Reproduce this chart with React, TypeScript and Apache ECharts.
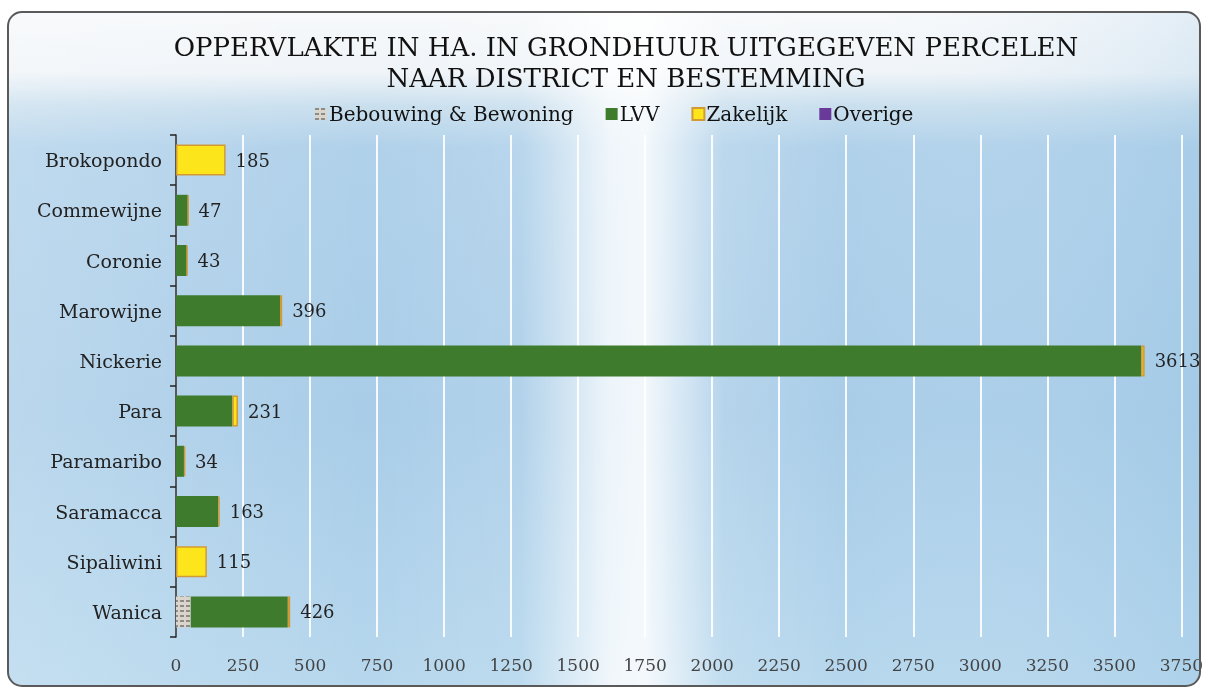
import React, { useEffect, useRef } from "react";
import * as echarts from "echarts";

const categories = ["Brokopondo", "Commewijne", "Coronie", "Marowijne", "Nickerie", "Para", "Paramaribo", "Saramacca", "Sipaliwini", "Wanica"];
const bebouwing = [0, 0, 0, 0, 0, 0, 0, 0, 0, 55];
const lvv = [0, 44, 40, 388, 3600, 210, 30, 158, 0, 362];
const zakelijk = [185, 3, 3, 8, 13, 21, 4, 5, 115, 9];
const overige = [0, 0, 0, 0, 0, 0, 0, 0, 0, 0];
const xTicks = { min: 0, max: 3750, interval: 250 };
const titleText = "OPPERVLAKTE IN HA. IN GRONDHUUR UITGEGEVEN PERCELEN\nNAAR DISTRICT EN BESTEMMING";

const FONT = "'DejaVu Serif', 'Liberation Serif', serif";

export default function App() {
  const ref = useRef<HTMLDivElement>(null);
  useEffect(() => {
    if (!ref.current) return;
    const chart = echarts.init(ref.current, null, { renderer: "svg" });
    const totals = categories.map((_, i) => bebouwing[i] + lvv[i] + zakelijk[i] + overige[i]);
    const nz = (arr: number[]) => arr.map((v) => (v ? v : null));
    chart.setOption({
      animation: false,
      textStyle: { fontFamily: FONT },
      graphic: [
        {
          type: "rect",
          z: -10,
          silent: true,
          shape: { x: 8, y: 12, width: 1192, height: 674, r: 14 },
          style: {
            fill: new echarts.graphic.LinearGradient(0, 0, 0, 1, [
              { offset: 0, color: "#f7f9fb" },
              { offset: 0.09, color: "#eff4f8" },
              { offset: 0.14, color: "#c9dfee" },
              { offset: 0.2, color: "#b0d1ea" },
              { offset: 0.6, color: "#a9cde8" },
              { offset: 1, color: "#b6d7ed" },
            ]),
          },
        },
        {
          type: "rect",
          z: -9,
          silent: true,
          shape: { x: 8, y: 12, width: 1192, height: 674, r: 14 },
          style: {
            fill: new echarts.graphic.LinearGradient(0, 0, 1, 0, [
              { offset: 0, color: "rgba(255,255,255,0.2)" },
              { offset: 0.3, color: "rgba(255,255,255,0)" },
              { offset: 0.43, color: "rgba(255,255,255,0.1)" },
              { offset: 0.505, color: "rgba(255,255,255,0.8)" },
              { offset: 0.535, color: "rgba(255,255,255,0.85)" },
              { offset: 0.6, color: "rgba(255,255,255,0.15)" },
              { offset: 0.7, color: "rgba(255,255,255,0)" },
              { offset: 1, color: "rgba(140,190,225,0.2)" },
            ]),
          },
        },
        {
          type: "rect",
          z: 50,
          silent: true,
          shape: { x: 8, y: 12, width: 1192, height: 674, r: 14 },
          style: { fill: "none", stroke: "#5a5a5a", lineWidth: 2 },
        },
      ],
      title: {
        text: titleText,
        left: 621,
        textAlign: "center",
        top: 26,
        textStyle: { fontFamily: FONT, fontSize: 26, fontWeight: "normal", color: "#111", lineHeight: 31 },
      },
      legend: {
        top: 99,
        left: 310,
        itemWidth: 12,
        itemHeight: 12,
        itemGap: 32,
        icon: "rect",
        textStyle: { fontFamily: FONT, fontSize: 20, color: "#111", padding: [0, 0, 0, -3] },
        data: ["Bebouwing & Bewoning", "LVV", "Zakelijk", "Overige"],
      },
      grid: { left: 176, right: 20, top: 135, bottom: 54, containLabel: false },
      xAxis: {
        type: "value",
        min: xTicks.min,
        max: xTicks.max,
        interval: xTicks.interval,
        axisLine: { show: false },
        axisTick: { show: false },
        axisLabel: { fontFamily: FONT, fontSize: 17, color: "#444", margin: 19, formatter: (v: number) => String(v) },
        splitLine: { show: true, lineStyle: { color: "rgba(255,255,255,0.9)", width: 2 } },
      },
      yAxis: {
        type: "category",
        inverse: true,
        data: categories,
        axisLine: { show: true, lineStyle: { color: "#222", width: 1.5 } },
        axisTick: { show: true, length: 6, lineStyle: { color: "#222", width: 1.5 } },
        axisLabel: { fontFamily: FONT, fontSize: 19, color: "#222", margin: 14 },
      },
      series: [
        {
          name: "Bebouwing & Bewoning",
          type: "bar",
          stack: "t",
          barWidth: 31,
          data: nz(bebouwing),
          itemStyle: {
            color: "#d9d4cc",
            decal: { symbol: "rect", symbolSize: 1, dashArrayX: [[4, 2]], dashArrayY: [2, 3], color: "#8e8a85" },
          },
        },
        {
          name: "LVV",
          type: "bar",
          stack: "t",
          barWidth: 31,
          data: nz(lvv),
          itemStyle: {
            color: "#3e7b2c",
            decal: { symbol: "circle", symbolSize: 0.4, dashArrayX: [[1, 9]], dashArrayY: [1, 7], color: "rgba(200,230,180,0.35)" },
          },
        },
        {
          name: "Zakelijk",
          type: "bar",
          stack: "t",
          barWidth: 31,
          data: nz(zakelijk),
          itemStyle: { color: "#fde51c", borderColor: "#d29a34", borderWidth: 1.5 },
        },
        {
          name: "Overige",
          type: "bar",
          stack: "t",
          barWidth: 31,
          data: overige,
          itemStyle: { color: "#6a3a9a", borderWidth: 0 },
          label: {
            show: true,
            position: "right",
            distance: 10,
            fontFamily: FONT,
            fontSize: 18,
            color: "#222",
            formatter: (p: any) => String(totals[p.dataIndex]),
          },
        },
      ],
    });
    return () => chart.dispose();
  }, []);
  return <div ref={ref} style={{ position: "fixed", left: 0, top: 0, width: 1206, height: 691 }} />;
}
